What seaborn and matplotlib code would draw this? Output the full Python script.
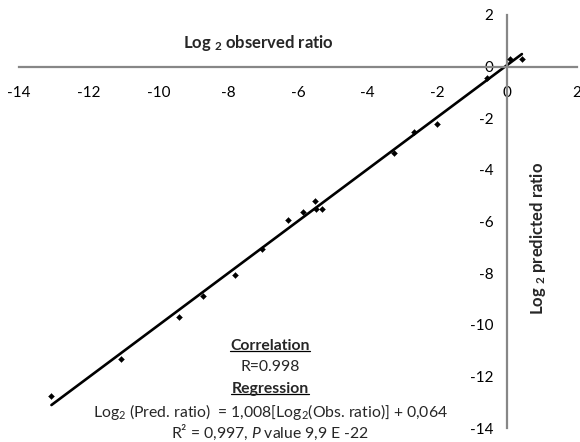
import numpy as np
import pandas as pd
import seaborn as sns
import matplotlib.pyplot as plt
from matplotlib.lines import Line2D

#####################################
### values ###
#####################################
obs_log2 = [-13.07, -11.08, -9.41, -8.73, -7.80, -7.03, -6.29, -5.85, -5.51,
            -5.47, -5.31, -3.26, -2.66, -2.01, -0.58, 0.08, 0.42]
pred_log2 = [-12.76, -11.34, -9.69, -8.88, -8.09, -7.05, -5.94, -5.65, -5.20,
             -5.50, -5.53, -3.36, -2.52, -2.24, -0.43, 0.31, 0.28]

fit_slope = 1.008
fit_intercept = 0.064

x_ticks = list(range(-14, 3, 2))
y_ticks = list(range(-14, 3, 2))

x_label = r"Log $_{\mathbf{2}}$ observed ratio"
y_label = r"Log $_{\mathbf{2}}$ predicted ratio"
stats_lines = ["Correlation",
               "R=0.998",
               "Regression",
               r"Log$_2$ (Pred. ratio)  = 1,008[Log$_2$(Obs. ratio)] + 0,064",
               r"R² = 0,997, $\mathit{P}$ value 9,9 E -22"]
underlined = [True, False, True, False, False]

##############
### style ###
##############
sns.set_style("white")
plt.rcParams["font.family"] = ["Lato", "DejaVu Sans"]
plt.rcParams["mathtext.fontset"] = "custom"
plt.rcParams["mathtext.rm"] = "Lato"
plt.rcParams["mathtext.it"] = "Lato:italic"
plt.rcParams["mathtext.bf"] = "Lato:bold"

axis_grey = "#878787"

df = pd.DataFrame({"obs": obs_log2, "pred": pred_log2})
fit_x = np.array([min(obs_log2), max(obs_log2)])
fit_df = pd.DataFrame({"obs": fit_x, "pred": fit_slope * fit_x + fit_intercept})

fig = plt.figure(figsize=(5.8, 4.42), dpi=100)
ax = fig.add_axes([19 / 580, 14 / 442, 558 / 580, 413 / 442])

sns.lineplot(data=fit_df, x="obs", y="pred", color="black", linewidth=1.9, ax=ax)
sns.scatterplot(data=df, x="obs", y="pred", marker="D", s=9, color="black",
                edgecolor="black", linewidth=0.3, ax=ax, zorder=3)

ax.set_xlim(-14, 2)
ax.set_ylim(-14, 2)
ax.set_xticks(x_ticks)
ax.set_yticks(y_ticks)
ax.set_xticklabels([str(t) for t in x_ticks])
ax.set_yticklabels([str(t) for t in y_ticks])
ax.set_xlabel("")
ax.set_ylabel("")

## axes crossing at the origin, Excel style
ax.spines["left"].set_position(("data", 0))
ax.spines["bottom"].set_position(("data", 0))
ax.spines["top"].set_visible(False)
ax.spines["right"].set_visible(False)
for s in ["left", "bottom"]:
    ax.spines[s].set_color(axis_grey)
    ax.spines[s].set_linewidth(1.6)
ax.tick_params(axis="x", direction="out", length=3, width=1.6, color=axis_grey,
               pad=11, labelsize=11, labelcolor="black")
ax.tick_params(axis="y", direction="out", length=4, width=1.6, color=axis_grey,
               pad=6, labelsize=11, labelcolor="black")
ax.set_facecolor("white")

fig.text(258 / 580, 1 - 43 / 442, x_label, ha="center", va="center",
         fontsize=12, fontweight="bold")
fig.text(538 / 580, 1 - 238 / 442, y_label, ha="center", va="center",
         fontsize=12, fontweight="bold", rotation=90)

## stats block with underlined headers
line_y = [346, 367, 389, 412, 432]
texts = []
for txt, yy, ul in zip(stats_lines, line_y, underlined):
    t = fig.text(270 / 580, 1 - yy / 442, txt, ha="center", va="center",
                 fontsize=11.3, fontweight="bold" if ul else "normal")
    texts.append((t, ul))

fig.canvas.draw()
renderer = fig.canvas.get_renderer()
for t, ul in texts:
    if not ul:
        continue
    bb = t.get_window_extent(renderer)
    yline = (bb.y0 + 2) / fig.bbox.height
    fig.add_artist(Line2D([bb.x0 / fig.bbox.width, bb.x1 / fig.bbox.width],
                          [yline, yline], color="black", linewidth=0.9,
                          transform=fig.transFigure))

fig.savefig("out.png", dpi=100)
